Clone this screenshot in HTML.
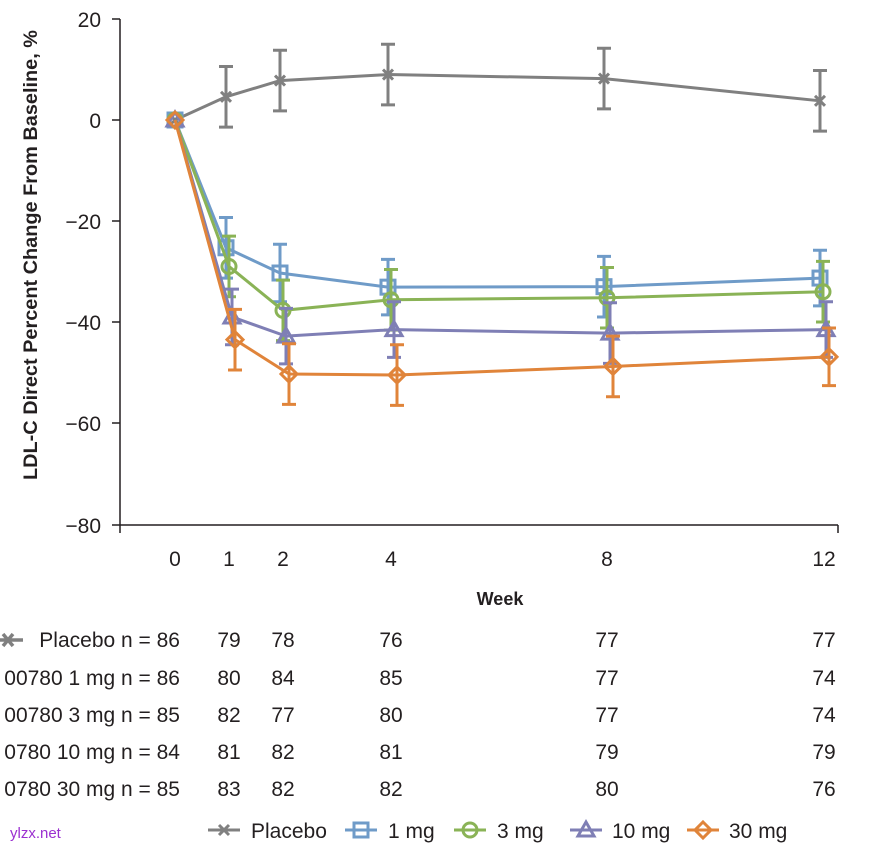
<!DOCTYPE html>
<html><head><meta charset="utf-8"><style>
body{margin:0;background:#fff;}
svg text{font-family:"Liberation Sans",sans-serif;fill:#231f20;}
</style></head><body>
<svg id="s" width="893" height="849" xmlns="http://www.w3.org/2000/svg">
<g font-size="21">
<text x="101" y="27" text-anchor="end">20</text>
<text x="101" y="128" text-anchor="end">0</text>
<text x="101" y="229" text-anchor="end">−20</text>
<text x="101" y="330" text-anchor="end">−40</text>
<text x="101" y="431" text-anchor="end">−60</text>
<text x="101" y="533" text-anchor="end">−80</text>
<text x="175" y="566" text-anchor="middle">0</text>
<text x="229" y="566" text-anchor="middle">1</text>
<text x="283" y="566" text-anchor="middle">2</text>
<text x="391" y="566" text-anchor="middle">4</text>
<text x="607" y="566" text-anchor="middle">8</text>
<text x="824" y="566" text-anchor="middle">12</text>
</g>
<text x="500" y="605" text-anchor="middle" font-size="18" font-weight="bold">Week</text>
<text transform="translate(37,255) rotate(-90)" text-anchor="middle" font-size="19" font-weight="bold" textLength="450" lengthAdjust="spacingAndGlyphs">LDL-C Direct Percent Change From Baseline, %</text>
<g stroke="#231f20" stroke-width="1.5">
<line x1="120" y1="19" x2="120" y2="525"/>
<line x1="120" y1="525" x2="838" y2="525"/>
<line x1="112" y1="19" x2="120" y2="19"/><line x1="112" y1="120" x2="120" y2="120"/><line x1="112" y1="221" x2="120" y2="221"/><line x1="112" y1="322" x2="120" y2="322"/><line x1="112" y1="423" x2="120" y2="423"/><line x1="112" y1="525" x2="120" y2="525"/>
<line x1="120" y1="525" x2="120" y2="533"/><line x1="838" y1="525" x2="838" y2="533"/>
</g>
<g stroke="#808080" stroke-width="3.5" fill="none">
<line x1="-5" y1="640" x2="23" y2="640"/>
<path d="M3 634L13 646M3 646L13 634"/>
</g>
<g font-size="21">
<text x="180" y="647" text-anchor="end">Placebo n = 86</text>
<text x="180" y="685" text-anchor="end">00780 1 mg n = 86</text>
<text x="180" y="722" text-anchor="end">00780 3 mg n = 85</text>
<text x="180" y="759" text-anchor="end">0780 10 mg n = 84</text>
<text x="180" y="796" text-anchor="end">0780 30 mg n = 85</text>
<g text-anchor="middle">
<text x="229" y="647">79</text><text x="283" y="647">78</text><text x="391" y="647">76</text><text x="607" y="647">77</text><text x="824" y="647">77</text>
<text x="229" y="685">80</text><text x="283" y="685">84</text><text x="391" y="685">85</text><text x="607" y="685">77</text><text x="824" y="685">74</text>
<text x="229" y="722">82</text><text x="283" y="722">77</text><text x="391" y="722">80</text><text x="607" y="722">77</text><text x="824" y="722">74</text>
<text x="229" y="759">81</text><text x="283" y="759">82</text><text x="391" y="759">81</text><text x="607" y="759">79</text><text x="824" y="759">79</text>
<text x="229" y="796">83</text><text x="283" y="796">82</text><text x="391" y="796">82</text><text x="607" y="796">80</text><text x="824" y="796">76</text>
</g>
<text x="251" y="838">Placebo</text>
<text x="388" y="838">1 mg</text>
<text x="497" y="838">3 mg</text>
<text x="612" y="838">10 mg</text>
<text x="729" y="838">30 mg</text>
</g>
<text x="10" y="838" font-size="15" style="fill:#9b30d0">ylzx.net</text>
<g id="plot"></g>
</svg>
<script>
const NS="http://www.w3.org/2000/svg",g=document.getElementById('plot');
function el(t,a){const e=document.createElementNS(NS,t);for(const k in a)e.setAttribute(k,a[k]);g.appendChild(e);return e;}
const wk=[0,1,2,4,8,12],X=w=>175+54*w,Y=v=>120-5.05*v;
const S=[
{c:'#808080',m:'x',o:-3,v:[0,4.6,7.8,9,8.2,3.8],e:[0,6,6,6,6,6]},
{c:'#6f9bc8',m:'s',o:-3,v:[0,-25.3,-30.3,-33.1,-33,-31.3],e:[0,6,5.7,5.5,6,5.5]},
{c:'#8ab356',m:'o',o:0,v:[0,-29,-37.7,-35.6,-35.2,-34],e:[0,6,6,6,6,6]},
{c:'#7f7fb5',m:'t',o:3,v:[0,-39,-42.8,-41.5,-42.2,-41.5],e:[0,5.5,5.5,5.5,6,5.5]},
{c:'#e0843a',m:'d',o:6,v:[0,-43.5,-50.3,-50.5,-48.8,-46.9],e:[0,6,6,6,6,5.7]}];
function mark(m,x,y,c){const a={fill:'none',stroke:c,'stroke-width':3};
 if(m=='x'){el('path',Object.assign({d:`M${x-5} ${y-5}L${x+5} ${y+5}M${x-5} ${y+5}L${x+5} ${y-5}`},a));}
 if(m=='s')el('rect',Object.assign({x:x-7,y:y-7,width:14,height:14},a));
 if(m=='o')el('circle',Object.assign({cx:x,cy:y,r:7},a));
 if(m=='t')el('path',Object.assign({d:`M${x} ${y-8}L${x+8} ${y+6}L${x-8} ${y+6}Z`},a));
 if(m=='d')el('path',Object.assign({d:`M${x} ${y-8}L${x+8} ${y}L${x} ${y+8}L${x-8} ${y}Z`},a));}
for(const s of S){
 const pts=wk.map((w,i)=>[X(w)+(i?s.o:0),Y(s.v[i])]);
 el('polyline',{points:pts.map(p=>p.join(',')).join(' '),fill:'none',stroke:s.c,'stroke-width':3});
 pts.forEach((p,i)=>{if(i){const e=s.e[i]*5.05;el('path',{d:`M${p[0]} ${p[1]-e}V${p[1]+e}M${p[0]-7} ${p[1]-e}H${p[0]+7}M${p[0]-7} ${p[1]+e}H${p[0]+7}`,stroke:s.c,'stroke-width':3,fill:'none'});}
 mark(s.m,p[0],p[1],s.c);});}
[[208,S[0]],[345,S[1]],[454,S[2]],[570,S[3]],[687,S[4]]].forEach(([x,s])=>{el('line',{x1:x,y1:830,x2:x+32,y2:830,stroke:s.c,'stroke-width':3});mark(s.m,x+16,830,s.c);});
</script>
</body></html>
